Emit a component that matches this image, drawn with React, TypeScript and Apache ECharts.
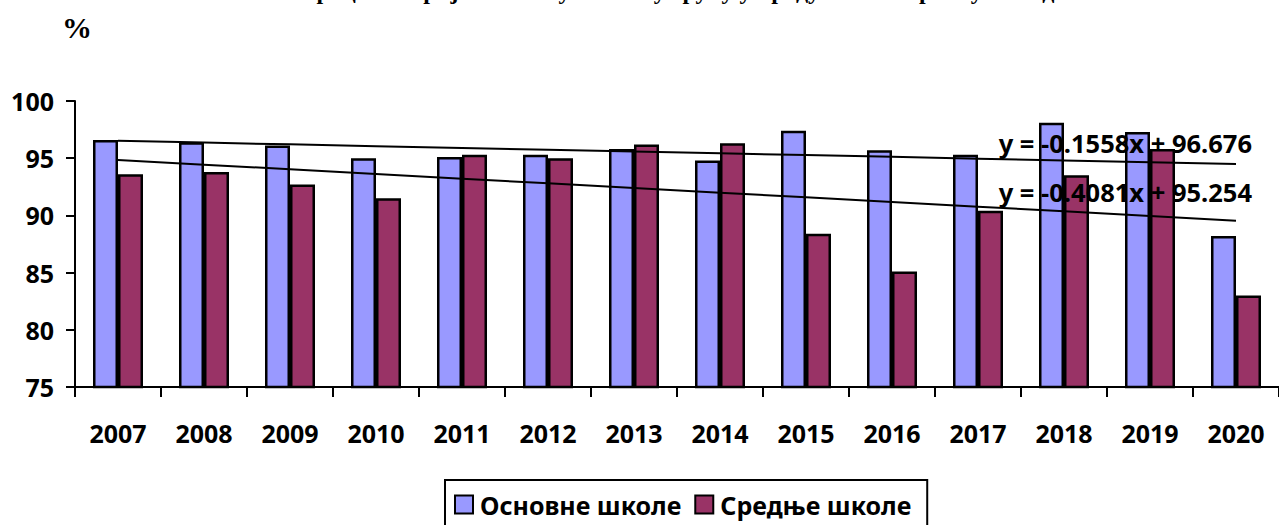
import React, { useEffect, useRef } from "react";
import * as echarts from "echarts";

const years = ["2007", "2008", "2009", "2010", "2011", "2012", "2013", "2014", "2015", "2016", "2017", "2018", "2019", "2020"];
const osnovne = [96.6, 96.4, 96.1, 95.0, 95.1, 95.3, 95.8, 94.8, 97.4, 95.7, 95.3, 98.1, 97.3, 88.2];
const srednje = [93.6, 93.8, 92.7, 91.5, 95.3, 95.0, 96.2, 96.3, 88.4, 85.1, 90.4, 93.5, 95.8, 83.0];
const trendOsnovne = { slope: -0.1558, intercept: 96.676 };
const trendSrednje = { slope: -0.4081, intercept: 95.254 };
const seriesNames = ["Основне школе", "Средње школе"];
const titleText = "Проценат пријављених ученика у групу у продуженом боравку по годинама";

const eqLabel = (t: { slope: number; intercept: number }) =>
  `y = ${t.slope}x + ${t.intercept}`;

export default function App() {
  const ref = useRef<HTMLDivElement>(null);
  useEffect(() => {
    if (!ref.current) return;
    const chart = echarts.init(ref.current, null, { renderer: "svg" });
    const font = "'Noto Sans', sans-serif";
    const trendData = (t: { slope: number; intercept: number }) =>
      years.map((_, i) => +(t.slope * (i + 1) + t.intercept).toFixed(4));
    chart.setOption({
      animation: false,
      backgroundColor: "#fff",
      grid: { left: 75, top: 101, width: 1213, height: 286, containLabel: false },
      legend: {
        data: seriesNames,
        left: 445,
        top: 480,
        orient: "horizontal",
        borderColor: "#000",
        borderWidth: 2,
        padding: [12, 16, 14, 9],
        itemWidth: 18,
        itemHeight: 18,
        itemGap: 13,
        icon: "rect",
        itemStyle: { borderColor: "#000", borderWidth: 2 },
        textStyle: { fontFamily: font, fontWeight: "bold", fontSize: 25, color: "#000", padding: [0, 0, 0, 2] },
      },
      xAxis: {
        type: "category",
        data: years,
        boundaryGap: true,
        axisLine: { lineStyle: { color: "#000", width: 2 } },
        axisTick: { show: true, length: 10, lineStyle: { color: "#000", width: 2 } },
        axisLabel: { fontFamily: font, fontWeight: "bold", fontSize: 25, color: "#000", margin: 33, interval: 0 },
        splitLine: { show: false },
      },
      yAxis: {
        type: "value",
        min: 75,
        max: 100,
        interval: 5,
        axisLine: { show: true, lineStyle: { color: "#000", width: 2 } },
        axisTick: { show: true, length: 9, lineStyle: { color: "#000", width: 2 } },
        axisLabel: { fontFamily: font, fontWeight: "bold", fontSize: 25, color: "#000", margin: 21 },
        splitLine: { show: false },
      },
      series: [
        {
          name: seriesNames[0],
          type: "bar",
          data: osnovne,
          barWidth: 25,
          barGap: "0%",
          itemStyle: { color: "#9999FF", borderColor: "#000", borderWidth: 2.5 },
        },
        {
          name: seriesNames[1],
          type: "bar",
          data: srednje,
          barWidth: 25,
          barGap: "0%",
          itemStyle: { color: "#993366", borderColor: "#000", borderWidth: 2.5 },
        },
        {
          name: "trend1",
          type: "line",
          data: trendData(trendOsnovne),
          symbol: "none",
          silent: true,
          lineStyle: { color: "#000", width: 2 },
          z: 5,
        },
        {
          name: "trend2",
          type: "line",
          data: trendData(trendSrednje),
          symbol: "none",
          silent: true,
          lineStyle: { color: "#000", width: 2 },
          z: 5,
        },
      ],
      graphic: [
        {
          type: "text",
          x: 710,
          y: 3,
          style: {
            text: titleText,
            font: "bold 24px 'Liberation Serif', serif",
            fill: "#000",
            align: "center",
            verticalAlign: "bottom",
          },
        },
        {
          type: "text",
          x: 62,
          y: 12,
          style: { text: "%", font: "bold 30px 'Liberation Serif', serif", fill: "#000" },
        },
        {
          type: "text",
          x: 1252,
          y: 143,
          z: 10,
          style: {
            text: eqLabel(trendOsnovne),
            font: `bold 25.5px ${font}`,
            fill: "#000",
            align: "right",
            verticalAlign: "middle",
          },
        },
        {
          type: "text",
          x: 1252,
          y: 192,
          z: 10,
          style: {
            text: eqLabel(trendSrednje),
            font: `bold 25.5px ${font}`,
            fill: "#000",
            align: "right",
            verticalAlign: "middle",
          },
        },
      ],
    });
    return () => chart.dispose();
  }, []);
  return (
    <div
      ref={ref}
      style={{ position: "absolute", left: 0, top: 0, width: 1279, height: 525 }}
    />
  );
}
